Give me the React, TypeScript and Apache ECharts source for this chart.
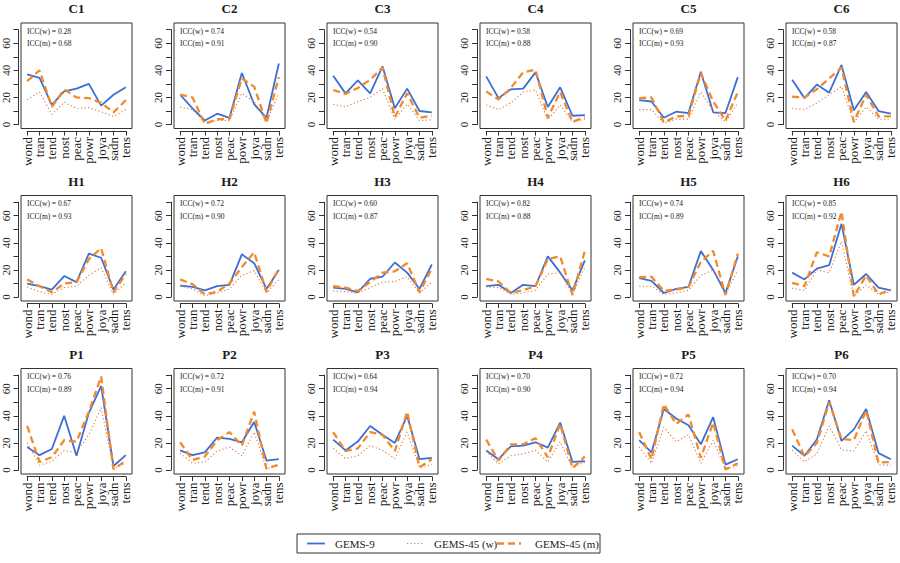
import React, { useEffect, useRef } from 'react';
import * as echarts from 'echarts';

const categories = ['wond', 'tran', 'tend', 'nost', 'peac', 'powr', 'joya', 'sadn', 'tens'];
const panelNames = ['C1', 'C2', 'C3', 'C4', 'C5', 'C6', 'H1', 'H2', 'H3', 'H4', 'H5', 'H6', 'P1', 'P2', 'P3', 'P4', 'P5', 'P6'];
const iccW = [0.28, 0.74, 0.54, 0.58, 0.69, 0.58, 0.67, 0.72, 0.60, 0.82, 0.74, 0.85, 0.76, 0.72, 0.64, 0.70, 0.72, 0.70];
const iccM = [0.68, 0.91, 0.90, 0.88, 0.93, 0.87, 0.93, 0.90, 0.87, 0.88, 0.89, 0.92, 0.89, 0.91, 0.94, 0.90, 0.94, 0.94];

const gems9 = [
  [37, 34.5, 14.5, 24.5, 26.5, 30, 14, 22, 27.5],
  [22, 12, 3, 8, 5, 38, 15, 5, 45],
  [36, 23, 32.5, 23, 43, 12, 26.5, 10, 9],
  [35.5, 19.5, 26, 26.5, 38.5, 13, 27.5, 6.5, 7],
  [18, 17, 5, 9.5, 8.5, 39, 9, 8.5, 35],
  [33, 19.5, 29.5, 23.5, 44, 10.5, 24, 10, 8],
  [10, 8, 5.5, 15.5, 11, 32, 29, 5.5, 19],
  [8.5, 7.5, 5, 8, 9, 31.5, 25, 6, 20],
  [7, 6, 3.5, 13.5, 15, 25.5, 18, 6, 24],
  [8, 9, 3, 9, 8, 30, 18, 5, 27],
  [14, 12, 3, 6, 7.5, 34, 20, 3, 30],
  [18, 13, 21, 23.5, 54, 9, 17, 7, 5],
  [17, 11, 15.5, 40, 10.5, 42, 62, 3, 11],
  [14.5, 11, 13, 24, 23, 20.5, 35.5, 7, 8],
  [22.5, 14.5, 21, 32.5, 26, 20, 40, 8, 9],
  [14.5, 8, 17.5, 18, 20.5, 16.5, 35, 6, 6.5],
  [22, 13, 45, 38, 33, 19, 39, 4, 8],
  [18, 10.5, 22.5, 51.5, 21.5, 30, 45, 12.5, 8],
];

const gems45w = [
  [18.5, 24, 7.5, 16.5, 12, 12.5, 9.5, 6, 11],
  [13, 11, 1.5, 3, 3, 23, 17, 2, 23],
  [15, 13, 17, 20, 26.5, 4, 15, 3, 3.5],
  [14.5, 11, 16, 24, 25.5, 3.5, 14.5, 2, 4],
  [11, 11, 1, 4, 4, 24, 10, 2, 16],
  [12, 11, 16, 22, 28, 1.5, 13, 4, 3.5],
  [7.5, 4, 2, 7, 8, 16, 21.5, 2, 10.5],
  [8, 6, 1, 3, 6, 16, 19.5, 3, 13],
  [4.5, 4, 3, 7, 11, 11.5, 15, 3, 11],
  [7.5, 7, 2, 3, 5, 17, 18, 2, 22],
  [8, 8, 2, 3, 5, 16, 20, 1.5, 20],
  [6.5, 5, 20, 18, 41, 0.5, 9, 2, 4],
  [20, 3.5, 6.5, 14.5, 13, 26, 46, 1, 5],
  [12.5, 5, 6, 14, 17, 10.5, 28, 1, 3],
  [16, 8.5, 10.5, 18, 14.5, 8.5, 28, 2, 4],
  [14, 4.5, 10.5, 12, 14.5, 6, 21, 1.5, 6],
  [17, 5, 31.5, 21, 26, 5, 22, 1, 3],
  [14.5, 6, 12, 32.5, 15, 14, 29, 4, 3.5],
];

const gems45m = [
  [32, 40, 13, 26, 20, 19.5, 16, 9, 18],
  [22, 20, 0.5, 4, 4, 34, 28, 1, 35],
  [25.5, 22.5, 27, 33, 42, 5.5, 23, 5, 6.5],
  [24.5, 18.5, 27, 38.5, 40.5, 5, 24, 2, 5.5],
  [19.5, 20, 1.5, 6, 6.5, 38, 17, 3, 24],
  [20.5, 20, 26, 34, 42, 2, 22, 6, 6],
  [13, 8, 3.5, 10, 11, 28, 36, 3.5, 17],
  [13, 9.5, 2, 4, 10, 22, 33, 4, 21],
  [8, 7, 4.5, 11, 18, 19, 25, 3.5, 21],
  [13.5, 11.5, 3, 5, 8, 28, 30, 1.5, 34],
  [14.5, 15, 4.5, 5.5, 7.5, 26, 34, 1.5, 32],
  [10.5, 8, 33, 30, 63, 0.5, 16, 2, 5.5],
  [32.5, 6, 9.5, 22, 21, 43, 69, 0.5, 7],
  [20.5, 7.5, 10, 22, 28, 18, 43, 1, 4],
  [28, 14, 16, 28, 26, 14, 43, 2, 8],
  [22.5, 7, 19, 19, 23.5, 9.5, 34, 1.5, 10],
  [28, 8, 48.5, 34, 41, 9, 35, 0.5, 5],
  [30, 10, 20, 50, 23, 22, 44, 5.5, 6],
];

const yLabelValues = [0, 20, 40, 60];
const yAxisMax = 70;
const seriesNames = ['GEMS-9', 'GEMS-45 (w)', 'GEMS-45 (m)'];

const FONT = '"Liberation Serif", "DejaVu Serif", serif';
const BLUE = '#3b6fd6';
const DOT = '#d9783e';
const DASH = '#f28a2c';
const INK = '#1a1a1a';

// layout
const colLeft = [21, 174, 327, 480, 633, 786];
const rowTop = [23, 195.5, 368.5];
const boxW = 111;
const boxH = 105.5;
const yMin = -2.9;
const yMax = 74.9;

export default function App() {
  const ref = useRef<HTMLDivElement>(null);

  useEffect(() => {
    document.body.style.margin = '0';
    const chart = echarts.init(ref.current!, null, { renderer: 'svg' });
    const grid: any[] = [];
    const xAxis: any[] = [];
    const yAxis: any[] = [];
    const series: any[] = [];
    const graphic: any[] = [];
    const pxPerUnit = boxH / (yMax - yMin);
    const band = boxW / categories.length;

    panelNames.forEach((name, i) => {
      const r = Math.floor(i / 6);
      const c = i % 6;
      const left = colLeft[c];
      const top = rowTop[r];
      const g0 = grid.length;
      // main plotting box
      grid.push({ left, top, width: boxW, height: boxH, show: true, borderColor: '#333', borderWidth: 1, backgroundColor: 'transparent' });
      xAxis.push({ type: 'category', gridIndex: g0, data: categories, boundaryGap: true, show: false });
      yAxis.push({ type: 'value', gridIndex: g0, min: yMin, max: yMax, show: false });
      // y axis (0..70), offset left of the box
      grid.push({ left: left - 3, top: top + (yMax - yAxisMax) * pxPerUnit, width: 1, height: yAxisMax * pxPerUnit, show: false });
      xAxis.push({ type: 'value', gridIndex: g0 + 1, min: 0, max: 1, show: false });
      yAxis.push({
        type: 'value', gridIndex: g0 + 1, min: 0, max: yAxisMax, interval: 10,
        axisLine: { show: true, lineStyle: { color: '#333', width: 1 } },
        axisTick: { show: true, length: 5, lineStyle: { color: '#333', width: 1 } },
        splitLine: { show: false },
        axisLabel: {
          show: true, rotate: 90, margin: 7.5, fontSize: 11, fontFamily: FONT, color: INK,
          formatter: (v: number) => (yLabelValues.includes(v) ? String(v) : ''),
        },
      });
      // x axis (wond..tens), offset below the box
      grid.push({ left: left + band / 2, top: top + boxH + 1.5, width: band * (categories.length - 1), height: 1, show: false });
      xAxis.push({
        type: 'category', gridIndex: g0 + 2, data: categories, boundaryGap: false,
        axisLine: { show: true, onZero: false, lineStyle: { color: '#333', width: 1 } },
        axisTick: { show: true, length: 4.5, lineStyle: { color: '#333', width: 1 } },
        axisLabel: { show: true, interval: 0, rotate: 90, margin: 6, fontSize: 13, fontFamily: FONT, color: INK },
        splitLine: { show: false },
      });
      yAxis.push({ type: 'value', gridIndex: g0 + 2, min: 0, max: 1, show: false });

      const common = { type: 'line', xAxisIndex: g0, yAxisIndex: g0, symbol: 'none', silent: true };
      series.push({ ...common, name: seriesNames[0], data: gems9[i], lineStyle: { color: BLUE, width: 1.8, type: 'solid' }, z: 3 });
      series.push({ ...common, name: seriesNames[1], data: gems45w[i], lineStyle: { color: DOT, width: 1.1, type: [1.2, 2.4] }, z: 4 });
      series.push({ ...common, name: seriesNames[2], data: gems45m[i], lineStyle: { color: DASH, width: 2.3, type: [7, 4] }, z: 5 });

      graphic.push({
        type: 'text', x: left + boxW / 2, y: top - 14.5,
        style: { text: name, fontFamily: FONT, fontWeight: 'bold', fontSize: 13, fill: INK, textAlign: 'center', textVerticalAlign: 'middle' },
      });
      graphic.push({
        type: 'text', x: left + 6, y: top + 8,
        style: { text: `ICC(w) = ${iccW[i].toFixed(2)}`, fontFamily: FONT, fontSize: 7.5, fill: INK, textAlign: 'left', textVerticalAlign: 'middle' },
      });
      graphic.push({
        type: 'text', x: left + 6, y: top + 20.5,
        style: { text: `ICC(m) = ${iccM[i].toFixed(2)}`, fontFamily: FONT, fontSize: 7.5, fill: INK, textAlign: 'left', textVerticalAlign: 'middle' },
      });
    });

    // legend box
    const ly = 543.5;
    graphic.push({ type: 'rect', shape: { x: 297, y: 534, width: 303, height: 19 }, style: { fill: 'none', stroke: '#333', lineWidth: 1 } });
    graphic.push({ type: 'line', shape: { x1: 307, y1: ly, x2: 325, y2: ly }, style: { stroke: BLUE, lineWidth: 1.8 } });
    graphic.push({ type: 'text', x: 335, y: ly, style: { text: seriesNames[0], fontFamily: FONT, fontSize: 11, fill: INK, textVerticalAlign: 'middle' } });
    graphic.push({ type: 'line', shape: { x1: 407, y1: ly, x2: 423, y2: ly }, style: { stroke: DOT, lineWidth: 1.1, lineDash: [1.2, 2.4] } });
    graphic.push({ type: 'text', x: 434, y: ly, style: { text: seriesNames[1], fontFamily: FONT, fontSize: 11, fill: INK, textVerticalAlign: 'middle' } });
    graphic.push({ type: 'line', shape: { x1: 497, y1: ly, x2: 521, y2: ly }, style: { stroke: DASH, lineWidth: 2.3, lineDash: [7, 4] } });
    graphic.push({ type: 'text', x: 535, y: ly, style: { text: seriesNames[2], fontFamily: FONT, fontSize: 11, fill: INK, textVerticalAlign: 'middle' } });

    chart.setOption({
      animation: false,
      backgroundColor: '#ffffff',
      grid, xAxis, yAxis, series, graphic,
    });
    return () => chart.dispose();
  }, []);

  return <div ref={ref} style={{ position: 'fixed', left: 0, top: 0, width: 900, height: 563 }} />;
}
